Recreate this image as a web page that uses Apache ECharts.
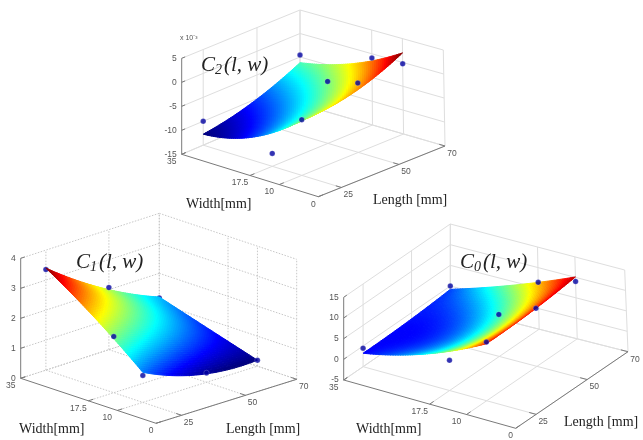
<!DOCTYPE html>
<html><head><meta charset="utf-8">
<style>html,body{margin:0;padding:0;background:#fff}#c{width:643px;height:440px}#c canvas{filter:blur(0.4px)}</style>
<script src="https://cdn.jsdelivr.net/npm/echarts@6/dist/echarts.min.js"></script>
</head><body><div id="c"></div>
<script>
// ---- data ----
const lengthGrid = [25, 50, 70];      // mm, rows of every table below
const widthGrid  = [35, 17.5, 10];    // mm, columns of every table below
const lengthTicks = [25, 50, 70];
const widthTicks  = [35, 17.5, 10, 0];
const lengthRange = [15, 70];
const widthRange  = [0, 35];

const c2Ticks = [-15, -10, -5, 0, 5];
const c2Surface = [[-12.7, -8.0, -3.5], [-10.1, -5.3, -1.9], [-6.2, -1.5, 2.0]];
const c2Samples = [[-10.0, -12.3, -3.4], [-14, -2.0, -0.5], [-4.6, -0.9, -0.3]];
const c2ColorRange = [-12.7, 2.0];

const c1Ticks = [0, 1, 2, 3, 4];
const c1Surface = [[3.4, 1.8, 1.0], [2.0, 1.0, 0.28], [1.21, 0.5, 0.2]];
const c1Samples = [[3.35, 1.87, 0.9], [2.07, 0.6, 0.31], [1.18, 0.3, 0.2]];
const c1ColorRange = [0.2, 3.4];

const c0Ticks = [-5, 0, 5, 10, 15];
const c0Surface = [[-1.75, 4.5, 8.8], [-1.5, 3.4, 9.1], [-0.8, 6.4, 10.1]];
const c0Samples = [[-0.53, 2.3, 9.2], [-3, 5.2, 9.1], [0, 6.4, 9]];
const c0ColorRange = [-3.5, 11];

// ---- layout: screen corners of each 3D box (left, back, front, right; floor & top) ----
const panels = [
 {name:'C2', ticks:c2Ticks, surf:c2Surface, samp:c2Samples, clim:c2ColorRange,
  floor:[[181.7,154.3],[300,104],[318.3,196.7],[445,146]],
  top:[[181.7,58.3],[300,10],[318.3,100.7],[443.3,50]], grid:'solid', gridCol:'#dedede'},
 {name:'C1', ticks:c1Ticks, surf:c1Surface, samp:c1Samples, clim:c1ColorRange,
  floor:[[20.7,378.3],[159.3,333.3],[156,423.3],[296.7,379.3]],
  top:[[20.7,258.3],[159.3,213.3],[156,303.3],[296.7,259.3]], grid:'dotted', gridCol:'#c8c8c8'},
 {name:'C0', ticks:c0Ticks, surf:c0Surface, samp:c0Samples, clim:c0ColorRange,
  floor:[[343.7,380],[450.3,306.7],[515.7,428.3],[628,351.7]],
  top:[[343.7,297.3],[450.3,224],[515.7,345.6],[624.7,270]], grid:'solid', gridCol:'#dedede'}
];

function mix(a,b,t){return [a[0]+(b[0]-a[0])*t,a[1]+(b[1]-a[1])*t];}
function project(p,L,W,Z){
  const u=(L-lengthRange[0])/(lengthRange[1]-lengthRange[0]);
  const v=(widthRange[1]-W)/(widthRange[1]-widthRange[0]);
  const t=(Z-p.ticks[0])/(p.ticks[p.ticks.length-1]-p.ticks[0]);
  const bil=c=>mix(mix(c[0],c[1],u),mix(c[2],c[3],u),v);
  return mix(bil(p.floor),bil(p.top),t);
}
// rendering only: smooth shading between the values read at the grid nodes
function basis(g,x){return g.map((gi,i)=>{let r=1;g.forEach((gj,j)=>{if(j!==i)r*=(x-gj)/(gi-gj);});return r;});}
function surfZ(p,L,W){
  const a=basis(lengthGrid,L),b=basis(widthGrid,W);let s=0;
  a.forEach((ai,i)=>b.forEach((bj,j)=>{s+=ai*bj*p.surf[i][j];}));return s;
}
const jet=['#00007f','#0000ff','#007fff','#00ffff','#7fff7f','#ffff00','#ff7f00','#ff0000','#7f0000'];
function jetColor(t){return echarts.color.lerp(Math.max(0,Math.min(1,t)),jet);}

const series=[];
function segSeries(p,segs,style,z){
  series.push({type:'custom',coordinateSystem:'cartesian2d',z:z,silent:true,clip:false,
    data:segs.map((s,i)=>[i]),encode:{x:0,y:0},
    renderItem:(params,api)=>{
      const s=segs[params.dataIndex];
      const a=api.coord(project(p,s[0],s[1],s[2])),b=api.coord(project(p,s[3],s[4],s[5]));
      return {type:'line',shape:{x1:a[0],y1:a[1],x2:b[0],y2:b[1]},style:Object.assign({fill:null},style)};
    }});
}
function textSeries(p,items,z){
  series.push({type:'custom',coordinateSystem:'cartesian2d',z:z,silent:true,clip:false,
    data:items.map((s,i)=>[i]),encode:{x:0,y:0},
    renderItem:(params,api)=>{
      const s=items[params.dataIndex];
      const a=api.coord(project(p,s[0],s[1],s[2]));
      return {type:'text',x:a[0]+s[4],y:a[1]+s[5],style:{text:s[3],fill:'#555',font:'8.5px "Liberation Sans"',textAlign:s[6]||'center',textVerticalAlign:'middle'}};
    }});
}
panels.forEach(p=>{
  const Lmin=lengthRange[0],Lmax=lengthRange[1],Wmin=widthRange[0],Wmax=widthRange[1];
  const zs=p.ticks,zmin=zs[0],zmax=zs[zs.length-1];
  const grid=[];
  zs.forEach(z=>{grid.push([Lmin,Wmax,z,Lmax,Wmax,z],[Lmax,Wmax,z,Lmax,Wmin,z]);});
  lengthTicks.forEach(L=>{grid.push([L,Wmax,zmin,L,Wmax,zmax],[L,Wmax,zmin,L,Wmin,zmin]);});
  widthTicks.forEach(W=>{grid.push([Lmax,W,zmin,Lmax,W,zmax],[Lmin,W,zmin,Lmax,W,zmin]);});
  segSeries(p,grid,{stroke:p.gridCol,lineWidth:1,lineDash:p.grid==='dotted'?[1.5,1.5]:null},1);
  const axes=[[Lmin,Wmax,zmin,Lmin,Wmax,zmax],[Lmin,Wmax,zmin,Lmin,Wmin,zmin],[Lmin,Wmin,zmin,Lmax,Wmin,zmin]];
  zs.forEach(z=>axes.push([Lmin,Wmax,z,Lmin+1.6,Wmax,z]));
  widthTicks.forEach(W=>axes.push([Lmin,W,zmin,Lmin+2,W,zmin]));
  lengthTicks.forEach(L=>axes.push([L,Wmin,zmin,L,Wmin+1.4,zmin]));
  segSeries(p,axes,{stroke:'#7a7a7a',lineWidth:1},2);
  const labels=[];
  zs.forEach(z=>labels.push([Lmin,Wmax,z,String(z),-5,0,'right']));
  widthTicks.forEach(W=>labels.push([Lmin,W,zmin,String(W),W===0?-5:-10,7.5]));
  lengthTicks.forEach(L=>labels.push([L,Wmin,zmin,String(L),7,7.5]));
  textSeries(p,labels,3);

  // dots that lie under the surface are painted first
  const under=[],over=[];
  lengthGrid.forEach((L,i)=>widthGrid.forEach((W,j)=>{
    (p.samp[i][j]<p.surf[i][j]-0.0001&&!(p.name==='C2'&&i===0)&&!(p.name==='C0'&&i===0)?under:over).push(project(p,L,W,p.samp[i][j]));
  }));
  const dot={color:'#0000a0',borderColor:'rgba(255,255,255,.5)',borderWidth:.5};
  series.push({type:'scatter',z:4,symbolSize:5.5,silent:true,itemStyle:dot,data:under,clip:false});

  // surface: tessellated between the values read at the grid nodes
  const gridL=[25,70],gridW=[35,10],N=50;
  series.push({type:'custom',coordinateSystem:'cartesian2d',z:5,silent:true,clip:false,
    data:[[0]],encode:{x:0,y:0},
    renderItem:(params,api)=>{
      const kids=[];
      for(let a=0;a<N;a++)for(let b=0;b<N;b++){
        const L0=gridL[0]+(gridL[1]-gridL[0])*a/N,L1=gridL[0]+(gridL[1]-gridL[0])*(a+1)/N;
        const W0=gridW[0]+(gridW[1]-gridW[0])*b/N,W1=gridW[0]+(gridW[1]-gridW[0])*(b+1)/N;
        const pts=[[L0,W0],[L1,W0],[L1,W1],[L0,W1]].map(q=>api.coord(project(p,q[0],q[1],surfZ(p,q[0],q[1]))));
        const c=jetColor((surfZ(p,(L0+L1)/2,(W0+W1)/2)-p.clim[0])/(p.clim[1]-p.clim[0]));
        kids.push({type:'polygon',shape:{points:pts},style:{fill:c,stroke:c,lineWidth:1}});
      }
      return {type:'group',children:kids};
    }});
  series.push({type:'scatter',z:6,symbolSize:5.5,silent:true,itemStyle:dot,data:over,clip:false});
});

const serif='"Liberation Serif"';
function title(x,y,main,sub){
  return {type:'text',left:x,top:y,z:20,style:{
    text:'{c|'+main+'}{s|'+sub+'}{p|(l, w)}',
    rich:{c:{font:'italic 21px '+serif,fill:'#222'},
          s:{font:'italic 14px '+serif,fill:'#222',verticalAlign:'bottom',padding:[9,2,0,0]},
          p:{font:'italic 21px '+serif,fill:'#222'}}}};
}
function name(x,y,t){return {type:'text',left:x,top:y,z:20,style:{text:t,font:'14px '+serif,fill:'#222'}};}
const graphic=[
 title(201,55,'C','2'),title(76,252,'C','1'),title(460,252,'C','0'),
 name(186,197,'Width[mm]'),name(373,193,'Length [mm]'),
 name(19,422,'Width[mm]'),name(226,422,'Length [mm]'),
 name(356,422,'Width[mm]'),name(564,415,'Length [mm]'),
 {type:'text',left:180,top:35,z:20,style:{text:'x 10\u207B\u00B3',font:'7px "Liberation Sans"',fill:'#555'}}
];

const chart=echarts.init(document.getElementById('c'),null,{renderer:'canvas'});
chart.setOption({animation:false,backgroundColor:'#fff',
  grid:{left:0,right:0,top:0,bottom:0},
  xAxis:{type:'value',min:0,max:643,show:false},
  yAxis:{type:'value',min:0,max:440,inverse:true,show:false},
  graphic:graphic,series:series});
</script></body></html>
